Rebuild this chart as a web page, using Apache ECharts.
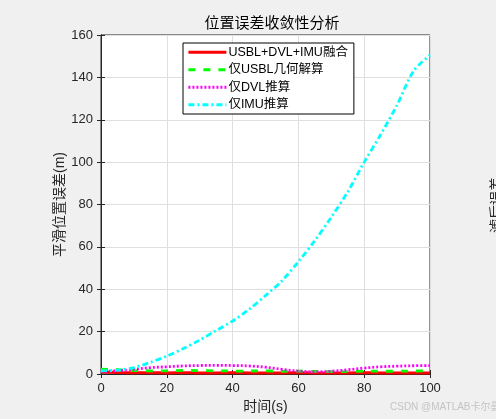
<!DOCTYPE html>
<html><head><meta charset="utf-8">
<script src="https://cdn.jsdelivr.net/npm/echarts@6/dist/echarts.min.js"></script>
<style>html,body{margin:0;padding:0;background:#f0f0f0;}#c{width:496px;height:419px;}</style>
</head><body><div id="c"></div>
<script>
const time = [0,5,10,15,20,25,30,35,40,45,50,55,60,65,70,75,80,85,90,95,100];
const fused = [0.9,0.7,0.6,0.6,0.5,0.6,0.5,0.5,0.6,0.5,0.5,0.5,0.6,0.5,0.5,0.5,0.6,0.5,0.5,0.5,0.5];
const usblOnly = [2.3,2.0,1.6,1.5,1.5,1.7,1.6,1.5,1.4,1.4,1.5,1.3,1.4,1.2,1.1,1.2,1.4,1.3,1.3,1.4,1.5];
const dvlOnly = [1.2,1.5,2.2,3.0,3.4,3.8,4.0,4.1,4.0,3.8,3.2,2.2,1.4,1.0,1.3,2.0,2.8,3.4,3.7,3.9,4.0];
const imuOnly = [1.5,1.8,3.0,5.5,8.4,12,16,20.5,25,30.5,37,44,53,63,74,86,100,113,127,143,150.5];
const seriesNames = ['USBL+DVL+IMU融合','仅USBL几何解算','仅DVL推算','仅IMU推算'];
const xTicks = {min:0,max:100,interval:20};
const yTicks = {min:0,max:160,interval:20};

const pair = arr => time.map((t,i)=>[t,arr[i]]);
const FONT = '"Liberation Sans","Noto Sans CJK SC",sans-serif';
const chart = echarts.init(document.getElementById('c'));
const tickStyle = {show:true,inside:true,length:4,lineStyle:{color:'#262626'}};
chart.setOption({
  backgroundColor:'#f0f0f0',
  animation:false,
  textStyle:{fontFamily:FONT},
  title:{text:'位置误差收敛性分析',left:267,textAlign:'center',top:11,
    textStyle:{fontSize:15,fontWeight:'normal',color:'#000',fontFamily:FONT}},
  grid:{left:101,right:66,top:35,bottom:43,show:true,backgroundColor:'#fff',borderColor:'#262626',borderWidth:1},
  legend:{orient:'vertical',left:183,top:43,itemWidth:38,itemHeight:12,itemGap:5,
    padding:[3,6,3,4],backgroundColor:'#fff',borderColor:'#000',borderWidth:1,borderRadius:0,
    itemStyle:{opacity:0},lineStyle:{width:2.8},
    textStyle:{fontSize:12.5,color:'#000',fontFamily:FONT,padding:[0,0,0,-3]},data:seriesNames},
  xAxis:[{type:'value',min:xTicks.min,max:xTicks.max,interval:xTicks.interval,
    name:'时间(s)',nameLocation:'middle',nameGap:26,nameMoveOverlap:false,
    nameTextStyle:{fontSize:14,color:'#262626',fontFamily:FONT},
    axisLine:{show:true,onZero:false,lineStyle:{color:'#262626'}},axisTick:tickStyle,
    axisLabel:{fontSize:13,color:'#262626',margin:8,fontFamily:FONT},
    splitLine:{show:true,lineStyle:{color:'#dfdfdf',width:1}}},
    {type:'value',position:'top',min:xTicks.min,max:xTicks.max,interval:xTicks.interval,
    axisLine:{show:true,lineStyle:{color:'#262626'}},axisTick:tickStyle,axisLabel:{show:false},splitLine:{show:false}}],
  yAxis:[{type:'value',min:yTicks.min,max:yTicks.max,interval:yTicks.interval,
    name:'平滑位置误差(m)',nameLocation:'middle',nameGap:34,nameMoveOverlap:false,
    nameTextStyle:{fontSize:14,color:'#262626',fontFamily:FONT},
    axisLine:{show:true,lineStyle:{color:'#262626'}},axisTick:tickStyle,
    axisLabel:{fontSize:13,color:'#262626',margin:8,fontFamily:FONT},
    splitLine:{show:true,lineStyle:{color:'#dfdfdf',width:1}}},
    {type:'value',position:'right',min:yTicks.min,max:yTicks.max,interval:yTicks.interval,
    axisLine:{show:true,lineStyle:{color:'#262626'}},axisTick:tickStyle,axisLabel:{show:false},splitLine:{show:false}}],
  series:[
    {name:seriesNames[0],type:'line',data:pair(fused),showSymbol:false,symbol:'none',smooth:0.3,
      lineStyle:{color:'#ff0000',width:3,type:'solid'},itemStyle:{color:'#ff0000'}},
    {name:seriesNames[1],type:'line',data:pair(usblOnly),showSymbol:false,symbol:'none',
      lineStyle:{color:'#00ff00',width:2.8,type:[7,8]},itemStyle:{color:'#00ff00'}},
    {name:seriesNames[2],type:'line',data:pair(dvlOnly),showSymbol:false,symbol:'none',smooth:0.4,
      lineStyle:{color:'#ff00ff',width:2.8,type:[2,2]},itemStyle:{color:'#ff00ff'}},
    {name:seriesNames[3],type:'line',data:pair(imuOnly),showSymbol:false,symbol:'none',smooth:0.3,
      lineStyle:{color:'#00ffff',width:2.8,type:[6,3,2,3]},itemStyle:{color:'#00ffff'}}
  ],
  graphic:[
    {type:'text',left:390,top:402,style:{text:'CSDN @MATLAB卡尔曼',fill:'#c4c4c4',fontSize:10,fontFamily:FONT}},
    {type:'text',x:504,y:205,rotation:Math.PI/2,style:{text:'滤后误差',fill:'#262626',fontSize:14,fontFamily:FONT,textAlign:'center',textVerticalAlign:'bottom'}}
  ]
});
</script></body></html>
